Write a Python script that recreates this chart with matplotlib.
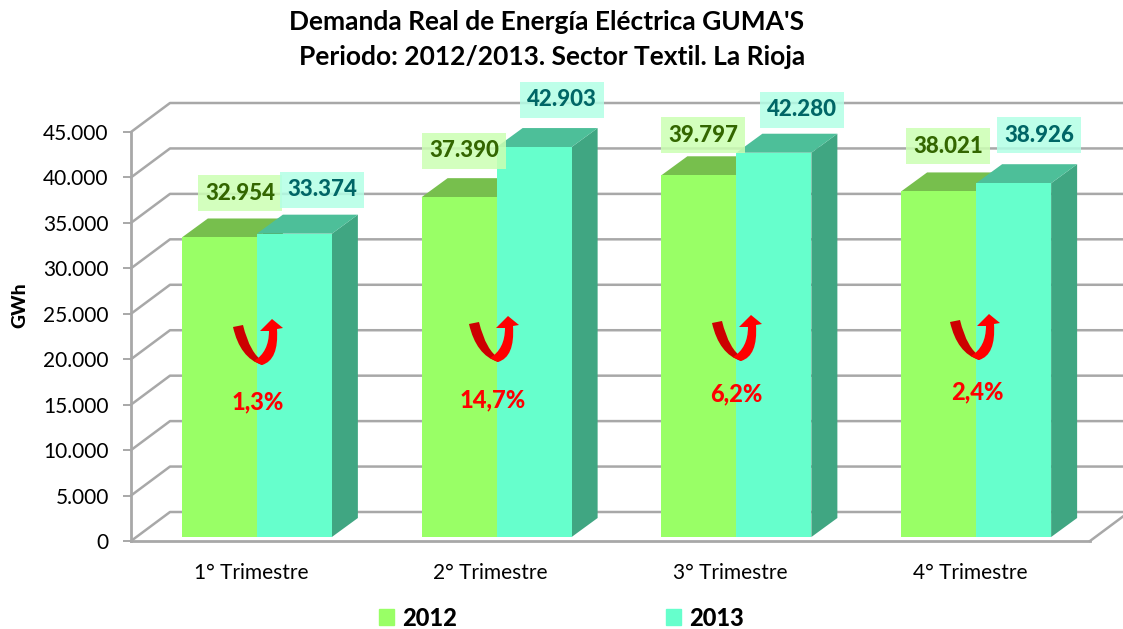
import matplotlib
matplotlib.use('Agg')
import matplotlib.pyplot as plt
import numpy as np
from matplotlib.patches import Patch, PathPatch, Polygon
from matplotlib.path import Path

plt.rcParams['font.family'] = ['Lato', 'DejaVu Sans']

# data
trimestres = ['1° Trimestre', '2° Trimestre', '3° Trimestre', '4° Trimestre']
demanda_2012 = [32954, 37390, 39797, 38021]
demanda_2013 = [33374, 42903, 42280, 38926]
variacion = ['1,3%', '14,7%', '6,2%', '2,4%']
yticks = [0, 5000, 10000, 15000, 20000, 25000, 30000, 35000, 40000, 45000]

# posiciones de etiquetas en pixeles de la imagen
pos_2012 = [(240, 193), (464, 151), (703, 135), (948, 146)]
pos_2013 = [(322, 190), (562, 100), (802, 110), (1039, 135)]
pos_var = [(258, 402), (493, 400), (736, 394), (977, 392)]
pos_flecha = [(260, 364), (496, 361), (739, 360), (977, 359)]

W, H = 1123, 629
fig = plt.figure(figsize=(W / 100, H / 100), dpi=100)
left, right, top, bottom = 131, 1090, 132, 541
ax = fig.add_axes([left / W, 1 - bottom / H, (right - left) / W, (bottom - top) / H])
ax.set_xlim(-0.5, 3.5)
ax.set_ylim(0, 45000)
px = 4 / (right - left)  # un pixel en unidades x
py = 45000 / (bottom - top)  # un pixel en unidades y


def figxy(p):
    return p[0] / W, 1 - p[1] / H


gris = '#a8a8a8'
fondo_dx, fondo_dy = 39 * px, 29 * py

# paredes y grilla
for v in yticks:
    ax.plot([-0.5, -0.5 + fondo_dx, 3.5 + fondo_dx], [v, v + fondo_dy, v + fondo_dy],
            color=gris, lw=1.8, clip_on=False, zorder=1)
ax.plot([3.5, 3.5 + fondo_dx], [0, fondo_dy], color=gris, lw=1.8, clip_on=False, zorder=1)

# barras 3D
x = np.arange(4) + 6 * px
ancho = 75 * px
base = 4 * py
prof_x, prof_y = 26 * px, 19 * py
series = [(demanda_2012, x - ancho / 2, '#99ff66', '#77bf4d', '#5f9e3c'),
          (demanda_2013, x + ancho / 2, '#66ffcc', '#4dbf99', '#40a682')]
for n, (vals, xs, cfrente, ctapa, clado) in enumerate(series):
    for xi, v in zip(xs, vals):
        tope = base + v
        x0, x1 = xi - ancho / 2, xi + ancho / 2
        ax.add_patch(Polygon([(x1, base), (x1 + prof_x, base + prof_y), (x1 + prof_x, tope + prof_y), (x1, tope)],
                             fc=clado, ec='none', zorder=2 + n, clip_on=False))
        ax.add_patch(Polygon([(x0, tope), (x0 + prof_x, tope + prof_y), (x1 + prof_x, tope + prof_y), (x1, tope)],
                             fc=ctapa, ec='none', zorder=2 + n, clip_on=False))
        ax.bar(xi, tope - base, ancho, bottom=base, color=cfrente, zorder=2.5 + n)

# ejes
for s in ['top', 'right']:
    ax.spines[s].set_visible(False)
for s in ['left', 'bottom']:
    ax.spines[s].set_color(gris)
    ax.spines[s].set_linewidth(2.0)
    ax.spines[s].set_zorder(1.5)
ax.set_yticks(yticks)
ax.set_yticklabels([f'{v:,}'.replace(',', '.') for v in yticks], fontsize=15)
ax.tick_params(axis='y', length=6, width=1.4, color=gris, pad=10)
ax.set_xticks(range(4))
ax.set_xticklabels(trimestres, fontsize=15)
ax.tick_params(axis='x', length=0, pad=16)
fig.text(20 / W, 1 - 305 / H, 'GWh', rotation=90, fontsize=14, fontweight='black', ha='center', va='center')

# titulo
fig.text(547 / W, 1 - 22 / H, "Demanda Real de Energía Eléctrica GUMA'S", fontsize=19, fontweight='bold', ha='center', va='center')
fig.text(552 / W, 1 - 57 / H, 'Periodo: 2012/2013. Sector Textil. La Rioja', fontsize=19, fontweight='bold', ha='center', va='center')

# etiquetas de valor
for vals, posiciones, ctexto, cfondo in [(demanda_2012, pos_2012, '#336600', (0.8, 1, 0.7, 0.85)),
                                         (demanda_2013, pos_2013, '#006666', (0.7, 1, 0.9, 0.85))]:
    for v, p in zip(vals, posiciones):
        fx, fy = figxy(p)
        fig.text(fx, fy, f'{v:,}'.replace(',', '.'), fontsize=16, fontweight='black', color=ctexto,
                 ha='center', va='center', zorder=6,
                 bbox=dict(boxstyle='square,pad=0.32', fc=cfondo, ec='none'))

# flechas curvas, relativas a la punta inferior (pixeles)
M, L, C = Path.MOVETO, Path.LINETO, Path.CURVE3
flecha_izq = ([M, L, C, C, L, C, C, Path.CLOSEPOLY],
              [(-27, -37), (-17, -39), (-10, -10), (4, -2), (2, 1), (-20, -6), (-27, -37), (-27, -37)])
flecha_der = ([M, C, C, L, L, L, L, C, C, Path.CLOSEPOLY],
              [(-6, -3), (9, -12), (9, -33), (0, -33), (12, -45), (23, -36), (17, -35), (19, -4), (2, 1), (2, 1)])

for p, texto, pt in zip(pos_flecha, variacion, pos_var):
    for (codes, verts), color in [(flecha_izq, '#cc0000'), (flecha_der, '#ff0000')]:
        puntos = [figxy((p[0] + a, p[1] + b)) for a, b in verts]
        fig.add_artist(PathPatch(Path(puntos, codes), fc=color, ec='none', transform=fig.transFigure, zorder=7))
    fx, fy = figxy(pt)
    fig.text(fx, fy, texto, color='#ff0000', fontsize=17, fontweight='black', ha='center', va='center', zorder=7)

# leyenda
handles = [Patch(color='#99ff66', label='2012'), Patch(color='#66ffcc', label='2013')]
fig.legend(handles=handles, loc='center', bbox_to_anchor=(561.5 / W, 1 - 618 / H), ncol=2, frameon=False,
           prop={'size': 17, 'weight': 'black'}, handlelength=0.65, handleheight=0.65,
           handletextpad=0.34, columnspacing=8.85, borderpad=0)

fig.savefig('out.png', dpi=100)
